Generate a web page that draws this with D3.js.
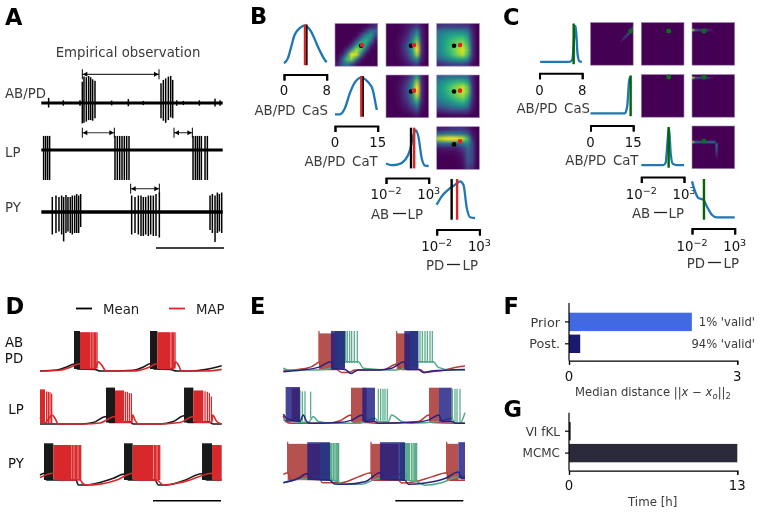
<!DOCTYPE html>
<html><head><meta charset="utf-8">
<script src="https://cdn.jsdelivr.net/npm/d3@7"></script>
<style>
html,body{margin:0;padding:0;background:#fff}
svg{display:block;font-family:"DejaVu Sans",sans-serif;filter:blur(.32px)}
</style></head><body><svg id="c" width="761" height="522"></svg>
<script>
// ---------- Panel A: empirical spikes [t ms, top, bottom] (normalised amplitude)
const empiricalABPD=[[615,.71,-.68],[640,.88,-.66],[675,.86,-.62],[710,.9,-.57],[740,.86,-.57],[770,.79,-.59],[805,.74,-.51],
 [1795,.66,-.51],[1830,.77,-.59],[1865,.82,-.66],[1905,.88,-.57],[1940,.9,-.48],[1970,.77,-.51],
 [110,.17,-.15],[330,.09,-.09],[580,.09,-.09],[1055,.08,-.08],[1305,.13,-.11],[1530,.07,-.07],[2030,.09,-.09],[2130,.07,-.07],[2370,.09,-.09],[2605,.14,-.12],[2680,.09,-.09]];
const empiricalLP=[35,65,95,125,1105,1140,1175,1210,1245,1280,1315,2275,2310,2340,2370,2400,2455,2490].map(t=>[t,.47,-1]);
const empiricalPY=[[165,.5,-.75],[220,.55,-.7],[265,.5,-.65],[305,.55,-.75],[335,.5,-.98],[370,.57,-.7],[400,.5,-.65],[435,.5,-.7],[465,.55,-.75],[500,.55,-.7],[530,.6,-.7],[560,.55,-.7],[590,.6,-.5],
 [1355,.55,-.75],[1405,.5,-.7],[1455,.55,-.75],[1495,.55,-.8],[1530,.5,-.8],[1565,.5,-.75],[1605,.55,-.8],[1640,.55,-.75],[1680,.55,-.8],[1720,.6,-.8],[1770,.65,-.85],
 [2530,.55,-.6],[2565,.6,-.7],[2605,.55,-1],[2640,.65,-.7],[2670,.6,-.65],[2705,.65,-.7]];
const empiricalIntervals=[["AB/PD",615,1765],["LP",615,1095],["LP",1990,2265],["PY",1340,1770]];
const traceLabelsA=["AB/PD","LP","PY"];

// ---------- Panels B, C: marginals [parameter value, density]
const paramLabels=[["AB/PD","CaS"],["AB/PD","CaT"],["AB","LP"],["PD","LP"]];
const paramDomains=[[0,8],[0,15],[-2,3],[-2,3]];
const bMarginalCaS=[[0,.07],[.74,.19],[1.36,.46],[1.98,.73],[2.6,.85],[3.22,.92],[3.9,.95],[4.47,.91],[5.09,.81],[5.7,.65],[6.33,.46],[6.95,.3],[7.57,.16],[8,.09]];
const bMarginalCaT=[[0,.08],[1.73,.08],[3.46,.22],[5.19,.57],[6.92,.82],[9.23,.94],[11.54,.84],[13.27,.65],[14.42,.27],[14.7,.18]];
const bMarginalABLP=[[-2,.14],[-1.34,.1],[-.55,.12],[.23,.22],[.81,.45],[1.2,.8],[1.48,.92],[1.79,.77],[2.18,.26],[2.57,.09],[3,.08]];
const bMarginalPDLP=[[-2,.375],[-1.41,.57],[-.63,.73],[.15,.84],[.73,.92],[1.13,.84],[1.52,.3],[1.91,.08],[2.49,.06]];
const cMarginalCaS=[[.12,.08],[5.66,.08],[6.15,.13],[6.52,.67],[6.77,.92],[7.14,.25],[7.5,.09],[7.94,.08]];
const cMarginalCaT=[[0,.09],[12.07,.09],[12.89,.25],[13.6,.87],[14.06,.95]];
const cMarginalABLP=[[-2,.085],[.58,.085],[.85,.14],[1.09,.68],[1.24,.95],[1.44,.37],[1.67,.12],[2.14,.085],[3,.085]];
const cMarginalPDLP=[[-2,.92],[-1.65,.69],[-1.25,.53],[-.66,.49],[-.27,.34],[.32,.14],[.91,.08],[3,.08]];
const bMeanLines=[4.2,9.73,.93,-.25], bMapLines=[3.93,9.24,1.3,.39];
const bMeanDots=[3.84,9.2,.93,.03], bMapDots=[3.97,9.5,1.28,.73];
const cGroundLines=[6.4,14.1,1.2,-.6];

// ---------- Panel B heatmaps (density, rows top to bottom)
const bH01=[[0,0,0,0,0,0,0,.06,.12],[0,0,0,0,0,.02,.14,.34,.32],[0,0,0,0,.02,.18,.44,.55,.22],[0,0,0,.01,.18,.48,.64,.42,.07],[0,0,.01,.14,.5,.72,.56,.14,.01],[0,.01,.14,.5,.85,.7,.24,.02,0],[.01,.08,.46,.97,.9,.36,.05,0,0],[.03,.26,.68,.82,.4,.07,0,0,0],[.08,.28,.42,.22,.06,0,0,0,0]];
const bH02=[[0,0,0,.02,.05,.1,.15,.05,0],[0,0,0,.03,.08,.2,.4,.1,0],[0,0,.01,.05,.12,.3,.6,.1,0],[0,0,.02,.08,.18,.42,.75,.12,0],[0,0,.02,.1,.25,.5,.9,.14,0],[0,0,.02,.1,.25,.55,1,.14,0],[0,0,.02,.08,.2,.45,.85,.12,0],[0,0,.01,.05,.12,.3,.5,.08,0],[0,0,0,.02,.06,.12,.18,.03,0]];
const bH03=[[.14,.16,.16,.16,.16,.16,.15,.05,0],[.36,.4,.42,.42,.42,.42,.35,.1,0],[.44,.5,.56,.6,.62,.62,.5,.12,0],[.46,.54,.64,.7,.74,.77,.62,.14,0],[.46,.56,.66,.74,.8,.86,.68,.15,0],[.46,.56,.66,.76,.86,.95,.74,.16,0],[.42,.52,.62,.72,.82,.9,.68,.15,0],[.3,.38,.45,.52,.58,.6,.46,.1,0],[.12,.16,.18,.21,.21,.21,.16,.05,0]];
const bH12=[[0,0,.01,.04,.1,.25,.6,.1,0],[0,0,.02,.07,.18,.42,.85,.13,0],[0,0,.03,.1,.22,.52,1,.14,0],[0,0,.03,.1,.23,.52,1,.14,0],[0,0,.02,.09,.2,.45,.85,.12,0],[0,0,.02,.07,.16,.35,.65,.1,0],[0,0,.01,.05,.1,.22,.4,.06,0],[0,0,0,.02,.05,.1,.2,.03,0],[0,0,0,0,.01,.03,.06,0,0]];
const bH13=[[.32,.36,.4,.4,.4,.4,.34,.1,0],[.46,.53,.6,.64,.68,.68,.58,.13,0],[.5,.58,.68,.77,.84,.92,.74,.16,0],[.5,.58,.68,.77,.86,.94,.76,.16,0],[.46,.54,.62,.7,.78,.84,.66,.15,0],[.38,.45,.5,.58,.64,.68,.54,.12,0],[.27,.33,.36,.42,.46,.48,.38,.08,0],[.12,.15,.17,.2,.21,.21,.17,.04,0],[.01,.02,.03,.03,.03,.03,.02,0,0]];
const bH23=[[.08,.1,.12,.15,.15,.15,.1,.03,0],[.34,.38,.42,.42,.4,.38,.28,.06,0],[.88,.96,1,1,.96,.9,.66,.14,0],[.34,.38,.38,.35,.35,.42,.5,.2,0],[.06,.08,.08,.08,.1,.18,.33,.2,0],[.01,.02,.02,.02,.04,.1,.3,.2,0],[0,0,0,0,.02,.06,.28,.2,0],[0,0,0,0,.01,.05,.25,.18,0],[0,0,0,0,.01,.03,.18,.12,0]];
// ---------- Panel C heatmaps, sparse cells on a 20x20 grid [col,row,density]
const cH01=[[14,8,.08],[15,7,.15],[16,6,.25],[17,5,.35],[18,4,.45],[19,3,.25],[19,2,.15]];
const cH02=[];
const cH03=[[0,3,.9],[1,3,.3],[2,3,.25],[3,3,.2],[4,3,.2],[5,3,.25],[6,3,.2],[7,3,.12],[8,3,.08],[9,3,.05]];
const cH12=[];
const cH13=[[0,1,.9],[1,1,.3],[2,1,.25],[3,1,.2],[4,1,.2],[5,1,.25],[6,1,.2],[7,1,.12],[8,1,.08],[9,1,.05]];
const cH23=[[0,7,.8],[1,7,.4],[2,7,.35],[3,7,.3],[4,7,.3],[5,7,.3],[6,7,.32],[7,7,.35],[8,7,.35],[9,7,.35],[10,7,.35],[11,8,.35],[11,9,.3],[11,10,.28],[11,11,.22],[11,12,.16],[11,13,.1],[11,14,.06]];

// ---------- Panel D: [t ms, mV]
const dMeanWave=[
 [[0,-70],[250,-67.5],[400,-60],[510,-52.5],[560,-65],[825,-66],[900,-70],[1100,-70],[1400,-68],[1550,-60],[1650,-52],[1710,-65],[1950,-66],[2050,-70],[2250,-70],[2500,-66],[2725,-57]],
 [[0,-70],[625,-70],[800,-66],[990,-49],[1040,-66],[1350,-64],[1400,-70],[1800,-70],[2000,-63],[2160,-47],[2225,-66],[2525,-64],[2600,-70],[2725,-70]],
 [[0,-46],[60,-42],[100,-58],[540,-58],[575,-70],[700,-70],[900,-64],[1100,-54],[1260,-44],[1325,-58],[1725,-58],[1775,-70],[1900,-70],[2150,-60],[2425,-43],[2500,-58],[2725,-58]]];
const dMapWave=[
 [[0,-70],[300,-68],[450,-61],[600,-52],[650,-64],[825,-64],[875,-47],[925,-55],[990,-70],[1400,-70],[1600,-63],[1760,-52],[1800,-64],[2000,-64],[2035,-47],[2075,-55],[2125,-70],[2500,-70],[2725,-66]],
 [[0,-52],[75,-66],[185,-45],[225,-54],[275,-70],[650,-70],[900,-67],[1125,-49],[1160,-66],[1375,-66],[1390,-45],[1425,-59],[1475,-70],[1800,-70],[2100,-66],[2300,-49],[2350,-66],[2575,-66],[2590,-45],[2650,-63],[2725,-70]],
 [[0,-52],[200,-42],[275,-58],[600,-58],[640,-66],[700,-70],[900,-68],[1150,-58],[1390,-42],[1450,-58],[1750,-58],[1850,-70],[2050,-66],[2250,-58],[2580,-42],[2625,-58],[2725,-58]]];
// dense bursts [start, end, top mV, bottom mV]
const dMeanBursts=[
 [[510,600,30,-65],[1650,1760,30,-65]],
 [[990,1125,32,-66],[2160,2300,32,-66]],
 [[60,200,30,-58],[1260,1390,30,-58],[2430,2580,30,-58]]];
const dMapBursts=[
 [[600,760,27,-64],[1760,1950,27,-64]],
 [[0,75,27,-68],[1125,1260,24,-66],[2300,2450,24,-66]],
 [[200,475,26,-58],[1390,1700,26,-58],[2580,2725,26,-58]]];
// isolated spikes [t, top mV, bottom mV]
const dMapSpikes=[
 [[775,27,-64],[795,27,-64],[815,27,-64],[835,27,-64],[855,27,-64],[1965,27,-64],[1985,27,-64],[2005,27,-64],[2025,27,-64]],
 [[100,21,-68],[125,20,-68],[150,19,-68],[175,15,-68],[1280,20,-66],[1310,20,-66],[1340,17,-66],[1370,16,-66],[2475,22,-66],[2510,20,-66],[2540,17,-66],[2570,7,-66]],
 [[490,26,-58],[510,26,-58],[530,26,-58],[550,26,-58],[570,26,-58],[590,26,-58],[610,26,-58],[1715,26,-58],[1735,26,-58],[1755,26,-58],[1775,26,-58],[1795,26,-58]]];
const legendLabels=["Mean","MAP"];

// ---------- Panel E
const eRedWave=[
 [[0,-69],[225,-66],[425,-59],[535,-49],[585,-66],[800,-66],[875,-74],[975,-74],[1075,-67.5],[1400,-67.5],[1525,-66],[1700,-52.5],[1775,-66],[2050,-66],[2125,-74],[2225,-72],[2425,-67.5],[2575,-61],[2725,-57.5]],
 [[0,-49],[35,-65],[125,-70],[675,-70],[850,-63],[1015,-47],[1050,-68],[1250,-68],[1425,-70],[2025,-65],[2185,-47],[2225,-68],[2625,-70],[2725,-70]],
 [[0,-46],[65,-42],[115,-60],[360,-44],[375,-56],[550,-58],[585,-66],[875,-66],[1125,-52],[1315,-42],[1350,-60],[1725,-60],[1775,-67],[1975,-64],[2225,-52],[2450,-42],[2500,-60],[2725,-60]]];
const eBlueWave=[
 [[0,-72],[275,-67.5],[525,-61],[715,-47],[750,-64],[925,-66],[1015,-76],[1125,-67.5],[1425,-67.5],[1625,-63],[1815,-47],[1850,-66],[2025,-66],[2100,-74],[2225,-70],[2725,-66]],
 [[0,-44],[50,-56],[250,-65],[300,-47],[350,-65],[425,-70],[825,-68],[1025,-61],[1185,-47],[1225,-65],[1375,-65],[1425,-70],[1925,-68],[2175,-61],[2335,-47],[2375,-65],[2525,-65],[2585,-70],[2725,-70]],
 [[0,-66],[225,-56],[360,-44],[425,-58],[700,-60],[765,-69],[925,-70],[1225,-64],[1450,-42],[1525,-58],[1825,-60],[1875,-70],[2125,-67],[2425,-56],[2625,-40],[2675,-56],[2725,-56]]];
const eGreenWave=[
 [[0,-63],[75,-67.5],[500,-67.5],[725,-63],[925,-47],[1125,-47],[1200,-63],[1425,-66],[1675,-67.5],[1875,-61],[2025,-47],[2250,-47],[2325,-61],[2525,-67.5],[2725,-67.5]],
 [[0,-61],[125,-65],[375,-68],[450,-51],[525,-65],[725,-70],[1125,-70],[1375,-56],[1425,-65],[1575,-65],[1625,-47],[1775,-65],[1925,-70],[2325,-65],[2525,-56],[2575,-70],[2650,-70],[2725,-40]],
 [[0,-66],[225,-58],[425,-56],[700,-42],[735,-60],[825,-64],[925,-70],[1175,-70],[1425,-56],[1575,-56],[1825,-42],[1875,-60],[2000,-64],[2125,-72],[2375,-66],[2625,-52],[2725,-52]]];
const eRedBursts=[
 [[535,825,24,-66],[1700,1900,24,-66]],
 [[125,250,28,-66],[1015,1250,30,-66],[2185,2335,30,-66]],
 [[65,550,28,-60],[1315,1725,28,-60],[2450,2625,28,-60]]];
const eBlueBursts=[
 [[715,925,30,-66],[1815,2025,30,-66]],
 [[35,250,32,-65],[1185,1375,30,-65],[2335,2525,30,-65]],
 [[360,700,32,-60],[1450,1825,32,-60],[2625,2725,32,-56]]];
const eGreenBursts=[
 [[775,925,30,-62],[1900,2025,30,-62]],
 [],
 [[550,740,30,-62],[1750,1900,30,-62]]];
const eRedSpikes=[[[535,30,-49],[1700,30,-52]],[],[[65,33,-42],[1315,33,-42],[2450,33,-42]]];
const eGreenSpikes=[
 [[935,30,-50],[960,30,-50],[995,30,-50],[1025,30,-50],[1065,30,-50],[1110,30,-50],[2050,30,-50],[2085,30,-50],[2125,30,-50],[2160,30,-50],[2200,30,-50],[2235,30,-50]],
 [[250,23,-65],[285,20,-65],[325,20,-65],[410,19,-55],[1425,27,-62],[1460,27,-62],[1495,27,-62],[1525,27,-62],[1560,27,-62],[2535,27,-58],[2575,27,-68],[2605,27,-68],[2650,27,-68]],
 [[755,30,-62],[775,30,-62],[795,30,-62],[815,30,-62],[830,30,-62],[1920,30,-62],[1945,30,-62],[1965,30,-62],[1985,30,-62],[2000,30,-62]]];

// ---------- Panels F, G
const fCategories=["Prior","Post."], fValues=[2.19,.2], fNotes=["1% 'valid'","94% 'valid'"];
const gCategories=["VI fKL","MCMC"], gValues=[.13,13];
const fTicks=[0,3], gTicks=[0,13];
const scaleBarMs=1020;

// ---------- drawing
const svg=d3.select("#c");
const INK="#111", GREY="#3a3a3a", FS=13.3;
function text(s,x,y,o={}){
  return svg.append("text").attr("x",x).attr("y",y).attr("dy","0.36em")
    .attr("text-anchor",o.a||"start").attr("fill",o.c||INK)
    .attr("font-size",o.fs||FS).attr("font-weight",o.w||null).text(s);
}
[["A",5,24.5],["B",250,24],["C",503,24.5],["D",5.5,314],["E",250,314],["F",503.5,314],["G",503.5,416.5]]
 .forEach(([s,x,y])=>svg.append("text").attr("x",x).attr("y",y).attr("font-size",22.5).attr("font-weight",900).attr("fill","#000").text(s));

// Panel A
const tA=d3.scaleLinear([0,2720],[41.3,222.7]);
const rowsA=[{d:empiricalABPD,b:103,l:93,w:3},{d:empiricalLP,b:150,l:152,w:2.8},{d:empiricalPY,b:212,l:207,w:3.5}];
text("Empirical observation",128,52,{a:"middle",c:GREY});
rowsA.forEach((r,i)=>{
  const y=d3.scaleLinear([-1,1],[r.b+30,r.b-30]);
  text(traceLabelsA[i],5,r.l,{c:GREY});
  const g=svg.append("g");
  g.append("line").attr("x1",tA(0)).attr("x2",tA(2720)).attr("y1",y(0)).attr("y2",y(0)).attr("stroke","#000").attr("stroke-width",r.w);
  g.selectAll("line.s").data(r.d).join("line").attr("class","s")
   .attr("x1",d=>tA(d[0])).attr("x2",d=>tA(d[0])).attr("y1",d=>y(d[1])).attr("y2",d=>y(d[2]))
   .attr("stroke","#000").attr("stroke-width",1.5);
});
const intervalY={"AB/PD":74.3,"LP":132.7,"PY":188.7};
empiricalIntervals.forEach(([row,a,b])=>{
  const y=intervalY[row],x1=tA(a),x2=tA(b);
  const g=svg.append("g").attr("stroke","#000").attr("fill","none");
  g.append("line").attr("x1",x1).attr("x2",x2).attr("y1",y).attr("y2",y).attr("stroke-width",row==="AB/PD"?1:1.1).attr("stroke",row==="AB/PD"?"#000":"#333");
  [x1,x2].forEach(x=>g.append("line").attr("x1",x).attr("x2",x).attr("y1",y-5).attr("y2",y+5).attr("stroke-width",1));
  g.append("path").attr("fill","#000").attr("stroke","none").attr("d",d3.line()([[x1+.5,y],[x1+5,y-2.5],[x1+5,y+2.5],[x1+.5,y]]));
  g.append("path").attr("fill","#000").attr("stroke","none").attr("d",d3.line()([[x2-.5,y],[x2-5,y-2.5],[x2-5,y+2.5],[x2-.5,y]]));
});
function scaleBar(x,y,t){
  svg.append("line").attr("x1",x-(t(scaleBarMs)-t(0))).attr("x2",x).attr("y1",y).attr("y2",y).attr("stroke","#000").attr("stroke-width",1.6);
}
scaleBar(224,248,tA);

// Panels B, C
function heatImage(gridOrCells,n,sparse){
  const cv=document.createElement("canvas");cv.width=n;cv.height=n;
  const ctx=cv.getContext("2d");
  ctx.fillStyle=d3.interpolateViridis(0);ctx.fillRect(0,0,n,n);
  const put=(c,r,v)=>{ctx.fillStyle=d3.interpolateViridis(v);ctx.fillRect(c,r,1,1);};
  if(sparse) gridOrCells.forEach(([c,r,v])=>put(c,r,v));
  else gridOrCells.forEach((row,r)=>row.forEach((v,c)=>put(c,r,v)));
  return cv.toDataURL();
}
function tickLabel(sel,i,v){
  if(i<2){sel.append("tspan").text(v);return;}
  sel.append("tspan").text("10");
  sel.append("tspan").attr("dy","-0.5em").attr("font-size",FS*.72).text(v<0?"\u2212"+(-v):v);
}
function corner(cfg){
  const {xs,ys,size,marginals,heat,sparse,lines,dots,bracketY,tickY,labels}=cfg;
  const X=paramDomains.map((d,i)=>d3.scaleLinear(d,[xs[i],xs[i]+size]));
  const Y=paramDomains.map((d,i)=>d3.scaleLinear(d,[ys[i]+size,ys[i]]));
  marginals.forEach((m,i)=>{
    const dy=d3.scaleLinear([0,1],[ys[i]+size,ys[i]]);
    svg.append("path").datum(m).attr("fill","none").attr("stroke","#1f77b4").attr("stroke-width",2.3)
      .attr("d",d3.line().x(d=>X[i](d[0])).y(d=>dy(d[1])).curve(d3.curveMonotoneX));
    lines.forEach(l=>svg.append("line").attr("x1",X[i](l.v[i])).attr("x2",X[i](l.v[i]))
      .attr("y1",ys[i]+1).attr("y2",ys[i]+size-1).attr("stroke",l.c).attr("stroke-width",2.4));
    const axis=d3.axisBottom(X[i]).tickValues(paramDomains[i]).tickSize(6).tickSizeOuter(6).tickFormat("");
    const g=svg.append("g").attr("transform",`translate(0,${bracketY[i]})`).call(axis);
    g.selectAll("path,line").attr("stroke","#000").attr("stroke-width",2);
    g.selectAll("text").remove();
    paramDomains[i].forEach(v=>{
      const t=svg.append("text").attr("x",X[i](v)).attr("y",tickY[i]).attr("dy","0.36em").attr("text-anchor","middle").attr("font-size",FS).attr("fill",INK);
      tickLabel(t,i,v);
    });
    const [a,b]=paramLabels[i];
    const L=labels[i];
    if(i<2) text(a+"\u2002"+b,L[1],L[2],{a:"end",c:GREY});
    else{
      text(a,L[0],L[2],{c:GREY});
      text(b,L[1],L[2],{a:"end",c:GREY});
      svg.append("line").attr("x1",L[3]).attr("x2",L[4]).attr("y1",L[2]-.5).attr("y2",L[2]-.5).attr("stroke","#222").attr("stroke-width",1.3);
    }
  });
  heat.forEach(h=>{
    const [r,c,data]=h,x=xs[c],y=ys[r];
    svg.append("image").attr("x",x).attr("y",y).attr("width",size).attr("height",size).attr("preserveAspectRatio","none")
      .attr("href",heatImage(data,sparse?20:data.length,sparse));
    svg.append("rect").attr("x",x).attr("y",y).attr("width",size).attr("height",size).attr("fill","none").attr("stroke","#a58ab8").attr("stroke-width",.6);
    dots.forEach(dt=>svg.append("circle").attr("cx",X[c](dt.v[c])).attr("cy",Y[r](dt.v[r])).attr("r",dt.r).attr("fill",dt.c));
  });
}
corner({xs:[284,335,386,436.7],ys:[23.5,75,126.7,178],size:42.7,
 marginals:[bMarginalCaS,bMarginalCaT,bMarginalABLP,bMarginalPDLP],
 heat:[[0,1,bH01],[0,2,bH02],[0,3,bH03],[1,2,bH12],[1,3,bH13],[2,3,bH23]],
 lines:[{v:bMeanLines,c:"#000"},{v:bMapLines,c:"#d62728"}],
 dots:[{v:bMeanDots,c:"#000",r:2.3},{v:bMapDots,c:"#d62728",r:2.3}],
 bracketY:[74.5,126,178,229.5],tickY:[90.5,142,194,246],
 labels:[[0,328,110],[0,377.7,161.5],[371,423,214,393,406],[426,478,265,447,460]]});
corner({xs:[539.5,590.5,641.3,692],ys:[22.5,74.5,126,178],size:42.7,
 marginals:[cMarginalCaS,cMarginalCaT,cMarginalABLP,cMarginalPDLP],
 heat:[[0,1,cH01],[0,2,cH02],[0,3,cH03],[1,2,cH12],[1,3,cH13],[2,3,cH23]],sparse:true,
 lines:[{v:cGroundLines,c:"#006400"}],
 dots:[{v:cGroundLines,c:"#0d6b1e",r:2.5}],
 bracketY:[73.2,125.5,177,228.5],tickY:[90,142,194,246],
 labels:[[0,590,108.5],[0,638.5,160.5],[632,684,213,654,667],[686.7,739,263,708,721]]});

// Panels D, E
function drawTrace(t,v,wave,bursts,spikes,c,o={}){
  const g=svg.append("g");
  (bursts||[]).forEach(b=>g.append("rect").attr("x",t(b[0])).attr("width",t(b[1])-t(b[0]))
     .attr("y",v(b[2])).attr("height",v(b[3])-v(b[2])).attr("fill",c.fill||c).attr("opacity",o.a||1));
  g.selectAll("line").data(spikes||[]).join("line").attr("x1",d=>t(d[0])).attr("x2",d=>t(d[0])).attr("y1",d=>v(d[1])).attr("y2",d=>v(d[2]))
     .attr("stroke",c.fill||c).attr("stroke-width",o.sw||1.3).attr("opacity",o.a||1);
  if(wave) g.append("path").datum(wave).attr("fill","none").attr("stroke",c.line||c).attr("stroke-width",o.lw||1.6)
     .attr("d",d3.line().x(d=>t(d[0])).y(d=>v(d[1])).curve(d3.curveMonotoneX));
}
const tD=d3.scaleLinear([0,2725],[40,221.7]);
const vRange=[[371,331],[424,388.3],[485,443.3]];
const vScale=r=>d3.scaleLinear([-70,30],r);
const BLK="#191919",RED="#d8282b";
[0,1,2].forEach(i=>{
  const v=vScale(vRange[i]);
  drawTrace(tD,v,dMeanWave[i],dMeanBursts[i],null,BLK);
  drawTrace(tD,v,dMapWave[i],dMapBursts[i],dMapSpikes[i],RED);
});
text("AB",14,342,{a:"middle"});text("PD",14,358,{a:"middle"});
text("LP",16,409,{a:"middle"});text("PY",16,463,{a:"middle"});
svg.append("line").attr("x1",76).attr("x2",92).attr("y1",308.5).attr("y2",308.5).attr("stroke","#000").attr("stroke-width",1.8);
svg.append("line").attr("x1",169).attr("x2",185).attr("y1",308.5).attr("y2",308.5).attr("stroke",RED).attr("stroke-width",1.8);
text(legendLabels[0],103,309,{c:"#222"});text(legendLabels[1],196,309,{c:"#222"});
scaleBar(221,500.7,tD);

const tE=d3.scaleLinear([0,2725],[283.3,465]);
const vRangeE=[[371,331],[423.3,387.7],[484.3,443]];
const cR={fill:"#b5524f",line:"#b83a3a"},cB={fill:"#1f1c80",line:"#27247f"},cG={fill:"#4aa57e",line:"#4fa884"};
[0,1,2].forEach(i=>{
  const v=vScale(vRangeE[i]);
  drawTrace(tE,v,eRedWave[i],eRedBursts[i],eRedSpikes[i],cR,{lw:1.5});
  drawTrace(tE,v,eGreenWave[i],eGreenBursts[i],eGreenSpikes[i],cG,{a:.9,lw:1.5,sw:1.3});
  drawTrace(tE,v,eBlueWave[i],eBlueBursts[i],null,cB,{a:.82,lw:1.5});
});
scaleBar(463.3,500.7,tE);

// Panels F, G
function barPanel(cfg){
  const {cats,vals,colors,dom,ticks,yTop,yBot,barBands,tickLabelY,catFs}=cfg;
  const x=d3.scaleLinear(dom,[569,737.3]);
  const y=d3.scaleBand(cats,barBands).paddingInner(.16).paddingOuter(0);
  const g=svg.append("g");
  g.selectAll("rect").data(vals).join("rect").attr("x",x(0)).attr("y",(d,i)=>y(cats[i])).attr("width",d=>x(d)-x(0))
    .attr("height",y.bandwidth()).attr("fill",(d,i)=>colors[i]);
  const ax=svg.append("g").attr("transform",`translate(0,${yBot})`).call(d3.axisBottom(x).tickValues(ticks).tickFormat("").tickSize(4).tickSizeOuter(4));
  ax.selectAll("path,line").attr("stroke","#000").attr("stroke-width",1.2);
  ticks.forEach(t=>text(String(t),x(t),tickLabelY,{a:"middle"}));
  svg.append("line").attr("x1",x(0)).attr("x2",x(0)).attr("y1",yTop).attr("y2",yBot).attr("stroke","#000").attr("stroke-width",1.2);
  cats.forEach(c=>{
    const yy=y(c)+y.bandwidth()/2;
    svg.append("line").attr("x1",565).attr("x2",569).attr("y1",yy).attr("y2",yy).attr("stroke","#000").attr("stroke-width",1.2);
    text(c,560,yy,{a:"end",c:GREY,fs:catFs});
  });
  return x;
}
barPanel({cats:fCategories,vals:fValues,colors:["#4169e1","#191970"],dom:[0,3],ticks:fTicks,yTop:303,yBot:360.7,barBands:[312.7,353],tickLabelY:376,catFs:12.8});
fNotes.forEach((s,i)=>text(s,755,[322,344][i],{a:"end",c:GREY,fs:11.6}));
const FSm=11.6;
const ml=svg.append("text").attr("x",653).attr("y",392).attr("dy","0.36em").attr("text-anchor","middle").attr("font-size",FSm).attr("fill",GREY);
ml.append("tspan").text("Median distance ||");
ml.append("tspan").attr("font-style","italic").text("x");
ml.append("tspan").text(" \u2212 ");
ml.append("tspan").attr("font-style","italic").text("x");
ml.append("tspan").attr("font-style","italic").attr("font-size",8.5).attr("dy",3).text("o");
ml.append("tspan").attr("dy",-3).text("||");
ml.append("tspan").attr("font-size",8.5).attr("dy",3).text("2");
barPanel({cats:gCategories,vals:gValues,colors:["#2a2a3a","#2a2a3a"],dom:[0,13],ticks:gTicks,yTop:412.7,yBot:470.7,barBands:[422,462.3],tickLabelY:485,catFs:12});
text("Time [h]",652.7,501.7,{a:"middle",c:GREY,fs:11.8});
</script></body></html>
